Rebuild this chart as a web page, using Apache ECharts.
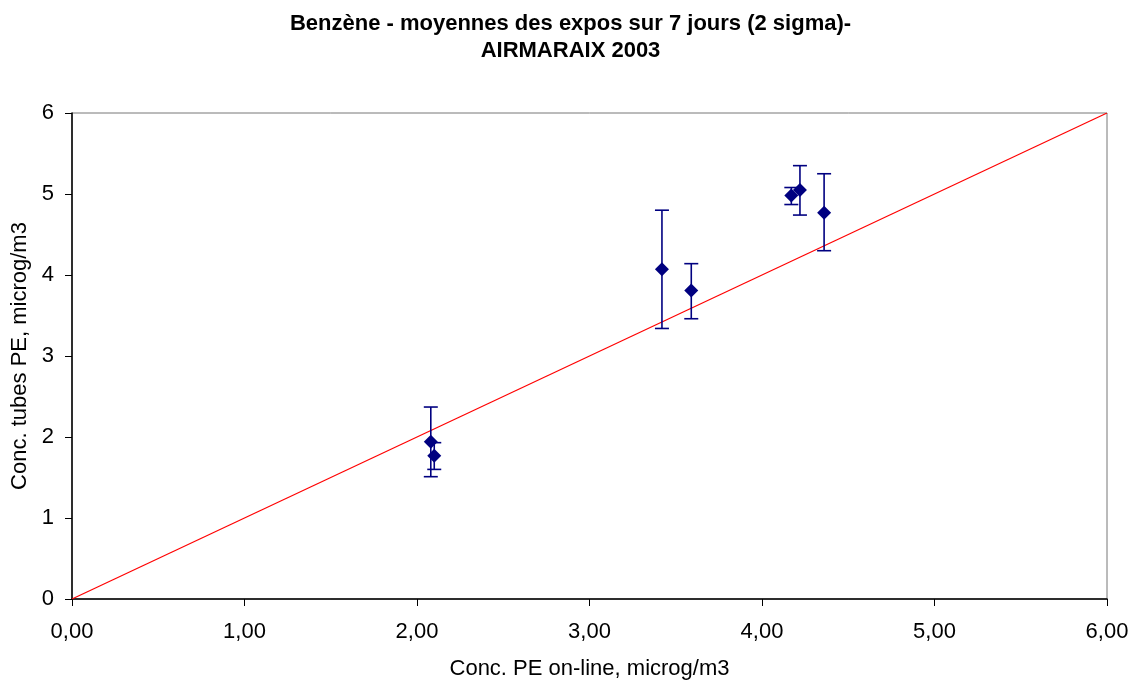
<!DOCTYPE html>
<html>
<head>
<meta charset="utf-8">
<script src="https://cdn.jsdelivr.net/npm/echarts@6/dist/echarts.min.js"></script>
<style>
	html, body { margin: 0; padding: 0; background: #fff; }
	#chart { width: 1141px; height: 684px; }
</style>
</head>
<body>
<div id="chart"></div>
<script>
	'use strict';

	// mesures : concentration on-line (x), tubes PE (y), barres 2 sigma
	var xOnline = [2.08, 2.10, 3.42, 3.59, 4.17, 4.22, 4.36];
	var yTubes = [1.94, 1.77, 4.07, 3.81, 4.98, 5.05, 4.77];
	var errHigh = [2.37, 1.93, 4.80, 4.14, 5.08, 5.35, 5.25];
	var errLow = [1.51, 1.60, 3.34, 3.46, 4.87, 4.74, 4.30];
	var refLine = [[0, 0], [6, 6]];

	var points = xOnline.map(function(x, i) { return [x, yTubes[i]]; });
	var bars = xOnline.map(function(x, i) { return [x, errLow[i], errHigh[i]]; });

	var navy = '#000080';
	var font = 'Liberation Sans';

	var option = {
		animation: false,
		title: {
			text: 'Benzène - moyennes des expos sur 7 jours (2 sigma)-\nAIRMARAIX 2003',
			left: 'center',
			top: 5,
			textStyle: {
				fontFamily: font,
				fontSize: 22,
				fontWeight: 'bold',
				color: '#000',
				lineHeight: 27
			}
		},
		grid: {
			left: 72,
			right: 34,
			top: 113,
			bottom: 85,
			outerBoundsMode: 'none',
			containLabel: false,
			show: true,
			borderColor: '#777',
			borderWidth: 1
		},
		xAxis: {
			type: 'value',
			min: 0,
			max: 6,
			interval: 1,
			name: 'Conc. PE on-line, microg/m3',
			nameLocation: 'middle',
			nameGap: 59,
			nameTextStyle: { fontFamily: font, fontSize: 22, color: '#000' },
			axisLine: { show: true, lineStyle: { color: '#000', width: 1.5 } },
			axisTick: { show: true, length: 7, lineStyle: { color: '#000' } },
			axisLabel: {
				fontFamily: font,
				fontSize: 22,
				color: '#000',
				margin: 22,
				formatter: function(v) { return v.toFixed(2).replace('.', ','); }
			},
			splitLine: { show: false }
		},
		yAxis: {
			type: 'value',
			min: 0,
			max: 6,
			interval: 1,
			name: 'Conc. tubes PE, microg/m3',
			nameLocation: 'middle',
			nameGap: 41,
			nameTextStyle: { fontFamily: font, fontSize: 22, color: '#000' },
			axisLine: { show: true, lineStyle: { color: '#000', width: 1.5 } },
			axisTick: { show: true, length: 7, lineStyle: { color: '#000' } },
			axisLabel: { fontFamily: font, fontSize: 22, color: '#000', margin: 18 },
			splitLine: { show: false }
		},
		series: [
			{
				name: 'y=x',
				type: 'line',
				data: refLine,
				symbol: 'none',
				lineStyle: { color: '#ff0000', width: 1.2 },
				z: 1
			},
			{
				name: 'erreur',
				type: 'custom',
				data: bars,
				z: 2,
				renderItem: function(params, api) {
					var lo = api.coord([api.value(0), api.value(1)]);
					var hi = api.coord([api.value(0), api.value(2)]);
					var w = 7;
					var st = { stroke: navy, lineWidth: 1.6 };
					return {
						type: 'group',
						children: [
							{ type: 'line', shape: { x1: hi[0], y1: hi[1], x2: lo[0], y2: lo[1] }, style: st },
							{ type: 'line', shape: { x1: hi[0] - w, y1: hi[1], x2: hi[0] + w, y2: hi[1] }, style: st },
							{ type: 'line', shape: { x1: lo[0] - w, y1: lo[1], x2: lo[0] + w, y2: lo[1] }, style: st }
						]
					};
				}
			},
			{
				name: 'mesures',
				type: 'scatter',
				data: points,
				symbol: 'diamond',
				symbolSize: 14,
				itemStyle: { color: navy, opacity: 1 },
				z: 3
			}
		]
	};

	var chart = echarts.init(document.getElementById('chart'));
	chart.setOption(option);
</script>
</body>
</html>
